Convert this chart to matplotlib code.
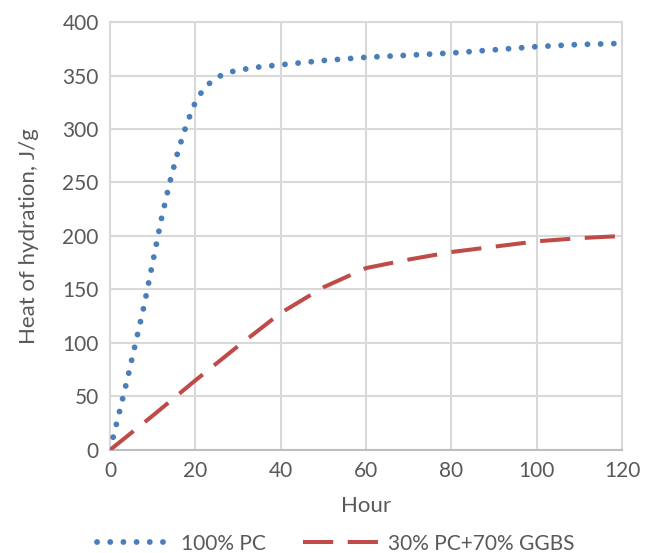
import matplotlib
matplotlib.use("Agg")
import matplotlib.pyplot as plt

plt.rcParams['font.family'] = ['Lato', 'DejaVu Sans']

pc_hours = [0, 2, 4, 6, 8, 10, 12, 14, 16, 18, 20, 22, 24, 26, 28, 30, 35, 40, 50, 60, 70, 80, 90, 100, 110, 120]
pc_heat = [0, 32, 65, 100, 135, 175, 215, 250, 280, 305, 325, 338, 345, 350, 353, 355, 358, 360, 364, 367, 369, 371, 374, 377, 379, 380]

ggbs_hours = [0, 10, 20, 30, 40, 50, 60, 70, 80, 90, 100, 110, 120]
ggbs_heat = [0, 32, 65, 97, 128, 152, 170, 178, 185, 190, 195, 198, 200]

labels = ["100% PC", "30% PC+70% GGBS"]
x_ticks = [0, 20, 40, 60, 80, 100, 120]
y_ticks = [0, 50, 100, 150, 200, 250, 300, 350, 400]

fig = plt.figure(figsize=(6.45, 5.53), dpi=100)
ax = fig.add_axes([0.1705, 0.1863, 0.7938, 0.7739])

blue = '#4a7ebb'
red = '#be4b48'
txt = '#595959'

l1, = ax.plot(pc_hours, pc_heat, color=blue, lw=4.2, linestyle=(0, (0.01, 2.25)),
              dash_capstyle='round', solid_capstyle='round', label=labels[0], zorder=3)
l2, = ax.plot(ggbs_hours, ggbs_heat, color=red, lw=2.9, linestyle=(0, (7.5, 3.6)),
              dash_capstyle='butt', label=labels[1], zorder=3)

ax.set_xlim(0, 120)
ax.set_ylim(0, 400)
ax.set_xticks(x_ticks)
ax.set_yticks(y_ticks)
ax.grid(True, color='#d9d9d9', lw=1.5)
ax.set_axisbelow(True)
for s in ax.spines.values():
    s.set_color('#d9d9d9')
    s.set_linewidth(1.5)
ax.spines['bottom'].set_color('#bfbfbf')
ax.tick_params(length=0, labelsize=15, colors=txt, pad=8)

ax.set_xlabel('Hour', fontsize=16, color=txt, labelpad=11)
ax.set_ylabel('Heat of hydration, J/g', fontsize=16, color=txt, labelpad=17)

leg = fig.legend(handles=[l1, l2], labels=labels, loc='lower center', ncol=2,
                 bbox_to_anchor=(0.52, -0.035), frameon=False, fontsize=15,
                 handlelength=3.6, columnspacing=1.8, handletextpad=0.45)
for t in leg.get_texts():
    t.set_color(txt)

fig.savefig('out.png', dpi=100)
